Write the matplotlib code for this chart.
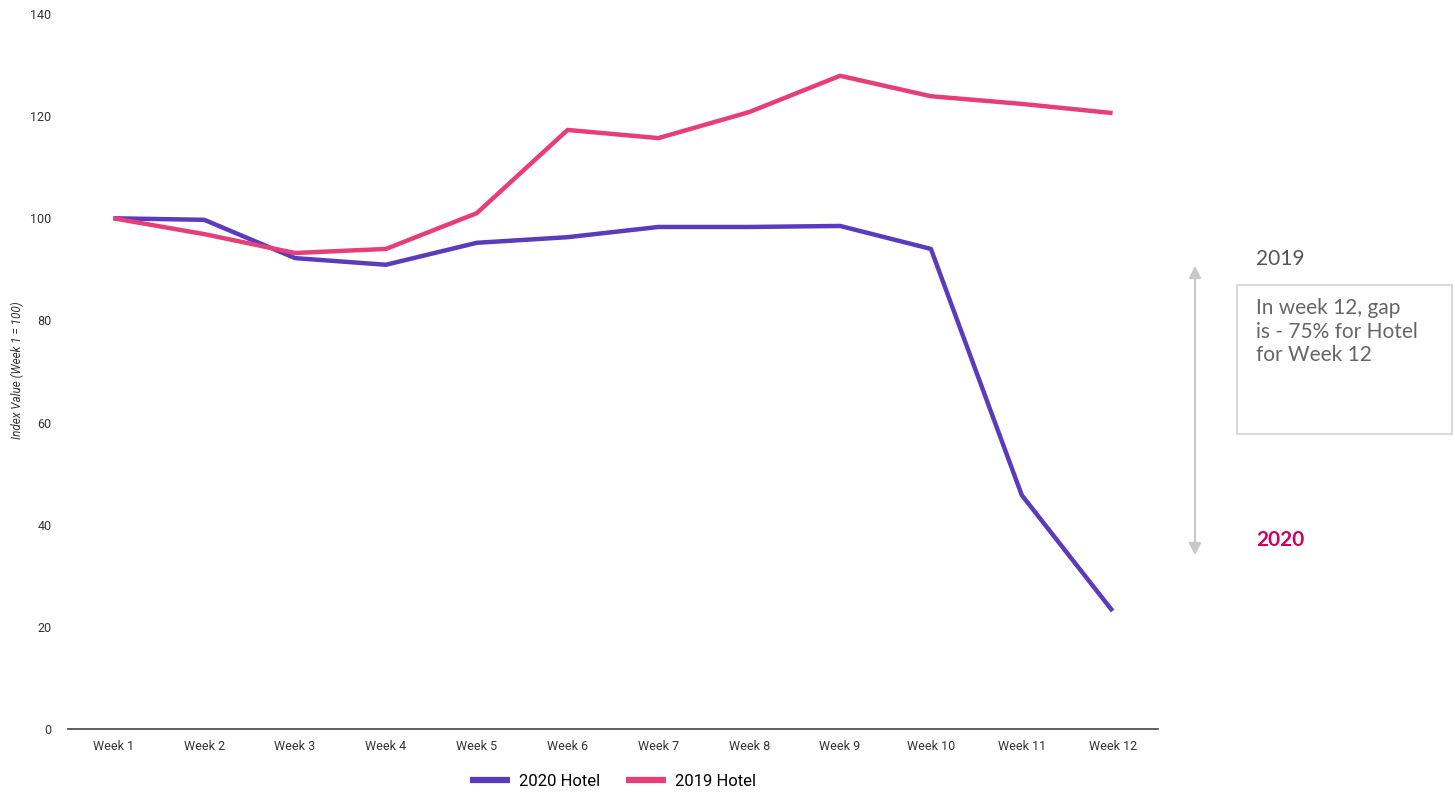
import matplotlib.pyplot as plt
from matplotlib.patches import Rectangle, FancyArrowPatch

weeks = ['Week 1', 'Week 2', 'Week 3', 'Week 4', 'Week 5', 'Week 6',
         'Week 7', 'Week 8', 'Week 9', 'Week 10', 'Week 11', 'Week 12']
hotel_2020 = [100, 99.7, 92.2, 90.9, 95.2, 96.3, 98.3, 98.3, 98.5, 94.0, 45.8, 23.1]
hotel_2019 = [100, 96.9, 93.2, 94.0, 101.0, 117.3, 115.7, 120.8, 127.9, 123.9, 122.4, 120.6]

plt.rcParams['font.family'] = ['Roboto', 'DejaVu Sans']

fig = plt.figure(figsize=(14.55, 7.93), dpi=100)
ax = fig.add_axes([68/1455, 1-729/793, (1158-68)/1455, (729-14)/793])

x = range(len(weeks))
ax.plot(x, hotel_2020, color='#5b3bbd', lw=3.2, label='2020 Hotel', solid_capstyle='butt')
ax.plot(x, hotel_2019, color='#e83e78', lw=3.2, label='2019 Hotel', solid_capstyle='butt')

ax.set_xlim(-0.5, len(weeks) - 0.5)
ax.set_ylim(0, 140)
ax.set_xticks(list(x))
ax.set_xticklabels(weeks, fontsize=9, color='#333333')
ax.set_yticks(range(0, 141, 20))
ax.tick_params(axis='y', length=0, labelsize=9, labelcolor='#333333', pad=12)
ax.tick_params(axis='x', length=0, pad=8)
for s in ['top', 'right', 'left']:
    ax.spines[s].set_visible(False)
ax.spines['bottom'].set_color('#444444')
ax.spines['bottom'].set_linewidth(1.2)

# y label placed by hand so it stays inside the figure
fig.text(17/1455, 1-370/793, 'Index Value (Week 1 = 100)', fontsize=8.5, style='italic',
         color='#333333', rotation=90, ha='center', va='center')

leg = ax.legend(loc='center', bbox_to_anchor=(613/1455, 1-781/793), bbox_transform=fig.transFigure,
                ncol=2, frameon=False, fontsize=12, handlelength=2.4, columnspacing=1.6,
                handletextpad=0.5)
for h in leg.get_lines():
    h.set_linewidth(4.5)

# annotation on the right
arr = FancyArrowPatch((1195/1455, 1-263/793), (1195/1455, 1-558/793), transform=fig.transFigure,
                      arrowstyle='<|-|>', mutation_scale=18, color='#c8c8c8', lw=1.5)
fig.patches.append(arr)
fig.text(1256/1455, 1-259/793, '2019', fontsize=15, color='#555555', va='center',
         family=['Lato', 'DejaVu Sans'])
fig.text(1256/1455, 1-540/793, '2020', fontsize=15, color='#d1005c', va='center',
         fontweight='bold', family=['Lato', 'DejaVu Sans'])
box = Rectangle((1237/1455, 1-434/793), (1452-1237)/1455, (434-285)/793,
                transform=fig.transFigure, fill=False, edgecolor='#d9d9d9', lw=1.5)
fig.patches.append(box)
fig.text(1256/1455, 1-298/793, 'In week 12, gap\nis - 75% for Hotel\nfor Week 12',
         fontsize=15, color='#666666', va='top', linespacing=1.22,
         family=['Lato', 'DejaVu Sans'])

fig.savefig('out.png', dpi=100)
